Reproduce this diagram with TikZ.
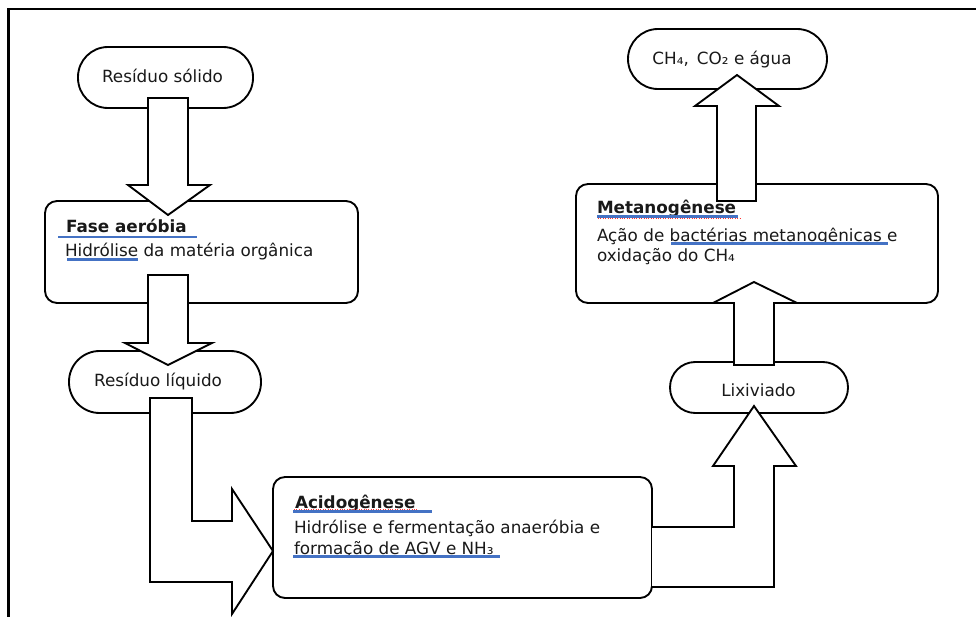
\documentclass[tikz,border=0pt]{standalone}
\usepackage{fontspec}
\setmainfont{DejaVu Sans}
\begin{document}
\begin{tikzpicture}[x=0.75pt,y=-0.75pt,
  every node/.style={inner sep=0pt,outer sep=0pt},
  shp/.style={draw=black,line width=1.4pt,fill=white},
  stadium/.style={shp,rectangle},
  boxstep/.style={shp,rectangle,rounded corners=9pt},
  blockarrow/.style={draw=black,line width=1.4pt,fill=white,line join=miter},
  txt/.style={anchor=base west,font=\fontsize{12.6}{15}\selectfont,text=black!90},
  ctxt/.style={anchor=base,font=\fontsize{12.6}{15}\selectfont,text=black!90},
  hdr/.style={txt,font=\fontsize{12.6}{15}\selectfont\bfseries},
  spell/.style={draw={rgb,255:red,68;green,114;blue,196},line width=1.6pt},
  typo/.style={draw=red!80,line width=0.7pt,dash pattern=on 0.7pt off 1.1pt}
]
\useasboundingbox (0,0) rectangle (976,617);

% outer frame (top and left edges only)
\draw[line width=1.8pt] (8.5,617) -- (8.5,9) -- (976,9);

% stadium-shaped terminals
\node[stadium,minimum width=131.25pt,minimum height=45.75pt,rounded corners=22.5pt] (sol) at (165.5,77.5) {};
\node[stadium,minimum width=144pt,minimum height=46.5pt,rounded corners=23pt] (liq) at (165,382) {};
\node[stadium,minimum width=133.5pt,minimum height=38.25pt,rounded corners=19pt] (lix) at (759,387.5) {};
\node[stadium,minimum width=149.25pt,minimum height=45pt,rounded corners=22.5pt] (gas) at (727.5,59) {};

% process boxes
\node[boxstep,minimum width=234.75pt,minimum height=76.5pt] (fase) at (201.5,252) {};
\node[boxstep,minimum width=284.25pt,minimum height=90.75pt] (acid) at (462.5,537.5) {};
\node[boxstep,minimum width=271.5pt,minimum height=89.25pt] (meta) at (757,243.5) {};

% block arrows
\draw[blockarrow] (148,98) -- (188,98) -- (188,185) -- (210,185) -- (168,215)
  -- (128,185) -- (148,185) -- cycle;
\draw[blockarrow] (148,275) -- (188,275) -- (188,343) -- (212,343) -- (168,365)
  -- (125,343) -- (148,343) -- cycle;
\draw[blockarrow] (150,398) -- (192,398) -- (192,521) -- (232,521) -- (232,489)
  -- (273,551) -- (232,614) -- (232,582) -- (150,582) -- cycle;
\draw[blockarrow] (652,527) -- (734,527) -- (734,466) -- (713,466) -- (754,406)
  -- (796,466) -- (774,466) -- (774,587) -- (652,587);
\draw[blockarrow] (734,365) -- (734,303) -- (713,303) -- (754,282) -- (797,303)
  -- (774,303) -- (774,365) -- cycle;
\draw[blockarrow] (717,201) -- (717,106) -- (695,106) -- (737,75) -- (779,106)
  -- (756,106) -- (756,201) -- cycle;

% terminal labels
\node[ctxt] (soltxt) at (162.5,83) {Resíduo sólido};
\node[ctxt] (liqtxt) at (158,386) {Resíduo líquido};
\node[ctxt] (lixtxt) at (758.5,396) {Lixiviado};
\node[ctxt] (gastxt) at (722,65) {CH₄,\, CO₂ e água};

% box texts
\node[hdr] (faseh) at (66,233) {Fase aeróbia};
\node[txt] (fase1) at (65,257) {Hidrólise da matéria orgânica};

\node[hdr] (acidh) at (295,508) {Acidogênese};
\node[txt] (acid1) at (294,533) {Hidrólise e fermentação anaeróbia e};
\node[txt] (acid2) at (294,554) {formação de AGV e NH₃};

\node[hdr] (metah) at (597,214) {Metanogênese};
\node[txt] (meta1) at (597,241) {Ação de bactérias metanogênicas e};
\node[txt] (meta2) at (597,262) {oxidação do CH₄};

% proofing underlines
\draw[spell] (58,237) -- (197,237);
\draw[spell] (67,259.5) -- (138,259.5);
\draw[typo] (294,509) -- (418,509);
\draw[spell] (293,511.5) -- (432,511.5);
\draw[spell] (293,556.5) -- (500,556.5);
\draw[spell] (597,216.5) -- (738,216.5);
\draw[typo] (598,218.5) -- (740,218.5);
\draw[spell] (671,243.5) -- (888,243.5);
\end{tikzpicture}
\end{document}
